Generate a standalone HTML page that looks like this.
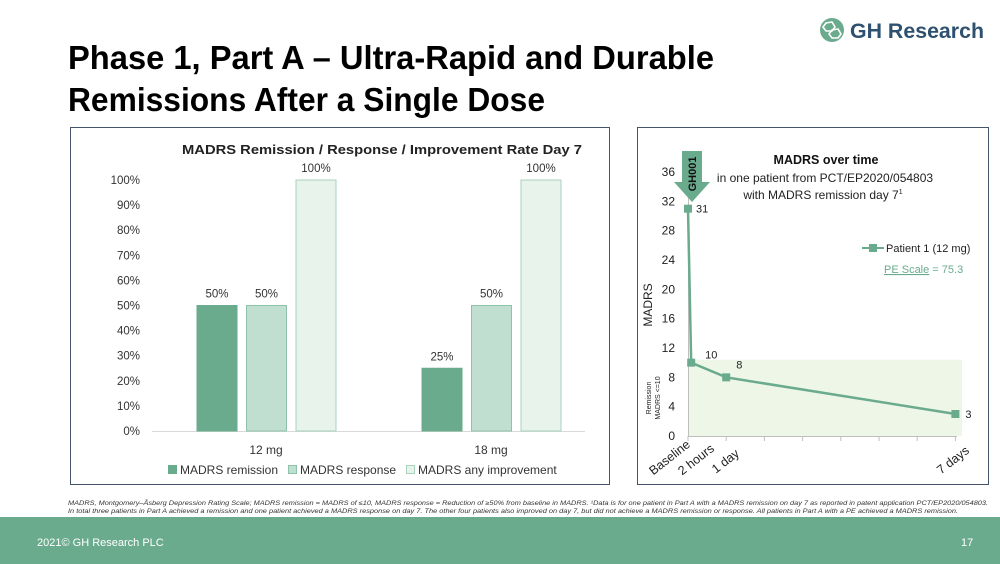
<!DOCTYPE html>
<html><head><meta charset="utf-8">
<style>
html,body{margin:0;padding:0;background:#fff;}
svg{display:block;font-family:"Liberation Sans",sans-serif;}
</style></head>
<body>
<svg id="page" width="1000" height="564" viewBox="0 0 1000 564">
  <text x="68" y="69" font-size="33" font-weight="bold" fill="#000" textLength="646" lengthAdjust="spacingAndGlyphs">Phase 1, Part A – Ultra-Rapid and Durable</text>
  <text x="68" y="111" font-size="33" font-weight="bold" fill="#000" textLength="477" lengthAdjust="spacingAndGlyphs">Remissions After a Single Dose</text>

  <g>
    <circle cx="832" cy="30" r="12" fill="#6aab8e"/>
    <polygon points="826,23 832,22 835,27 832,31 826,31 823,27" fill="none" stroke="#fff" stroke-width="1.6"/>
    <polygon points="832,30 838,29 841,34 838,38 832,38 829,34" fill="none" stroke="#fff" stroke-width="1.6"/>
    <text x="850" y="38" font-size="21" font-weight="bold" fill="#2e5170" textLength="134" lengthAdjust="spacingAndGlyphs">GH Research</text>
  </g>

  <rect x="70.5" y="127.5" width="539" height="357" fill="#fff" stroke="#44546a" stroke-width="1"/>
  <rect x="637.5" y="127.5" width="351" height="357" fill="#fff" stroke="#44546a" stroke-width="1"/>

  <g id="bar-chart"></g>
  <g id="line-chart"></g>

  <text x="68" y="505" font-size="6.3" font-style="italic" fill="#333" textLength="920" lengthAdjust="spacingAndGlyphs">MADRS, Montgomery–Åsberg Depression Rating Scale; MADRS remission = MADRS of ≤10, MADRS response = Reduction of ≥50% from baseline in MADRS. ¹Data is for one patient in Part A with a MADRS remission on day 7 as reported in patent application PCT/EP2020/054803.</text>
  <text x="68" y="513" font-size="6.3" font-style="italic" fill="#333" textLength="890" lengthAdjust="spacingAndGlyphs">In total three patients in Part A achieved a remission and one patient achieved a MADRS response on day 7. The other four patients also improved on day 7, but did not achieve a MADRS remission or response. All patients in Part A with a PE achieved a MADRS remission.</text>

  <rect x="0" y="517" width="1000" height="47" fill="#6aab8e"/>
  <text x="37" y="546" font-size="11" fill="#fff">2021© GH Research PLC</text>
  <text x="961" y="546" font-size="11" fill="#fff">17</text>
</svg>
<script>
const NS='http://www.w3.org/2000/svg';
// ---- bar chart data ----
const barCategories=['12 mg','18 mg'];
const barSeriesNames=['MADRS remission','MADRS response','MADRS any improvement'];
const remissionValues=[50,25];
const responseValues=[50,50];
const improvementValues=[100,100];
const barYTicks=[0,10,20,30,40,50,60,70,80,90,100];
// ---- line chart data ----
const lineXValues=[0,0.0833,1,7];
const lineYValues=[31,10,8,3];
const lineLabels=['31','10','8','3'];
const lineYTicks=[0,4,8,12,16,20,24,28,32,36];
const remissionThreshold=10.4;

function mk(tag,attrs,parent,text){const e=document.createElementNS(NS,tag);for(const k in attrs)e.setAttribute(k,attrs[k]);if(text!==undefined)e.textContent=text;parent.appendChild(e);return e;}

// bar chart
const bc=document.getElementById('bar-chart');
const by=v=>431-v*2.51;
const groupCenter=i=>266+i*225;
const fills=['#6aab8e','#c1dfd1','#e8f3ec'];
const strokes=['#6aab8e','#8fc2aa','#a9d2bf'];
let t=mk('text',{x:382,y:154,'font-size':13,'font-weight':'bold','text-anchor':'middle',fill:'#222',textLength:400,lengthAdjust:'spacingAndGlyphs'},bc,'MADRS Remission / Response / Improvement Rate Day 7');


barYTicks.forEach(v=>{
  const l=mk('text',{x:140,y:by(v)+4,'font-size':11.5,'text-anchor':'end',fill:'#333'},bc,v+'%');
  
  
});
const ax=mk('line',{x1:152,y1:431.5,x2:585,y2:431.5,stroke:'#d9d9d9'},bc);


const series=[remissionValues,responseValues,improvementValues];
barCategories.forEach((c,i)=>{
  series.forEach((vals,s)=>{
    const x=groupCenter(i)-69+s*49.5;
    const r=mk('rect',{x:x,y:by(vals[i]),width:40,height:431-by(vals[i]),fill:fills[s],stroke:strokes[s],'stroke-width':1},bc);
    
    
    const lb=mk('text',{x:x+20,y:by(vals[i])-8,'font-size':11.5,'text-anchor':'middle',fill:'#333'},bc,vals[i]+'%');
    
    
  });
  const cl=mk('text',{x:groupCenter(i),y:454,'font-size':12,'text-anchor':'middle',fill:'#333'},bc,c);
  
  
});
const legX=[168,288,406];
barSeriesNames.forEach((n,s)=>{
  const g=mk('g',{},bc);
  
  
  mk('rect',{x:legX[s]+0.5,y:465.5,width:8,height:8,fill:fills[s],stroke:strokes[s]},g);
  mk('text',{x:legX[s]+12,y:474,'font-size':12,fill:'#333'},g,n);
});

// line chart
const lc=document.getElementById('line-chart');
const lx=d=>688+d*38.2;
const ly=v=>436-v*7.333;
const band=mk('rect',{x:688,y:ly(remissionThreshold),width:274,height:436-ly(remissionThreshold),fill:'#eef6e8'},lc);


lineYTicks.forEach(v=>{
  const l=mk('text',{x:675,y:ly(v)+4,'font-size':12,'text-anchor':'end',fill:'#222'},lc,v);
  
  
});
mk('line',{x1:688.5,y1:ly(36),x2:688.5,y2:436,stroke:'#bfbfbf'},lc);
mk('line',{x1:688,y1:436.5,x2:957,y2:436.5,stroke:'#bfbfbf'},lc);
for(let d=0;d<=7;d++)mk('line',{x1:lx(d),y1:436,x2:lx(d),y2:441,stroke:'#bfbfbf'},lc);
const yt=mk('text',{transform:'translate(652,305) rotate(-90)','font-size':12,'text-anchor':'middle',fill:'#222'},lc,'MADRS');


const rt=mk('text',{transform:'translate(651,398) rotate(-90)','font-size':7,'text-anchor':'middle',fill:'#222'},lc);


mk('tspan',{x:0,dy:0},rt,'Remission');mk('tspan',{x:0,dy:9},rt,'MADRS <=10');
const pts=lineXValues.map((d,i)=>lx(d)+','+ly(lineYValues[i])).join(' ');
const pl=mk('polyline',{points:pts,fill:'none',stroke:'#6aab8e','stroke-width':2.5},lc);


lineXValues.forEach((d,i)=>{
  const m=mk('rect',{x:lx(d)-4,y:ly(lineYValues[i])-4,width:8,height:8,fill:'#6aab8e'},lc);
  
  
  const off=[[8,4],[14,-4],[10,-9],[10,4]][i];
  const l=mk('text',{x:lx(d)+off[0],y:ly(lineYValues[i])+off[1],'font-size':11,fill:'#222'},lc,lineLabels[i]);
  
  
});
// x labels rotated (anchored at end)
[['Baseline',691,446],['2 hours',715,450],['1 day',740,455],['7 days',970,452]].forEach(a=>{
  const l=mk('text',{transform:'translate('+a[1]+','+a[2]+') rotate(-38)','font-size':12.5,'text-anchor':'end',fill:'#222'},lc,a[0]);
  
  
});
// arrow
const ar=mk('polygon',{points:'682,151 702,151 702,182 710,182 692,202 674,182 682,182',fill:'#6aab8e'},lc);


const at=mk('text',{transform:'translate(696,174) rotate(-90)','font-size':11,'font-weight':'bold','text-anchor':'middle',fill:'#111'},lc,'GH001');


// titles
const t1=mk('text',{x:826,y:164,'font-size':12.5,'font-weight':'bold','text-anchor':'middle',fill:'#111'},lc,'MADRS over time');


mk('text',{x:825,y:182,'font-size':12,'text-anchor':'middle',fill:'#222'},lc,'in one patient from PCT/EP2020/054803');
const t3=mk('text',{x:823,y:199,'font-size':12,'text-anchor':'middle',fill:'#222'},lc,'with MADRS remission day 7');
mk('tspan',{'font-size':7,dy:-5},t3,'1');
const lg=mk('g',{},lc);


mk('line',{x1:862,y1:248,x2:884,y2:248,stroke:'#6aab8e','stroke-width':2},lg);
mk('rect',{x:869,y:244,width:8,height:8,fill:'#6aab8e'},lg);
mk('text',{x:886,y:252,'font-size':11,fill:'#222'},lg,'Patient 1 (12 mg)');
const pe=mk('text',{x:884,y:273,'font-size':11,fill:'#6aab8e'},lc);


mk('tspan',{'text-decoration':'underline'},pe,'PE Scale');
mk('tspan',{},pe,' = 75.3');
</script>
</body></html>
